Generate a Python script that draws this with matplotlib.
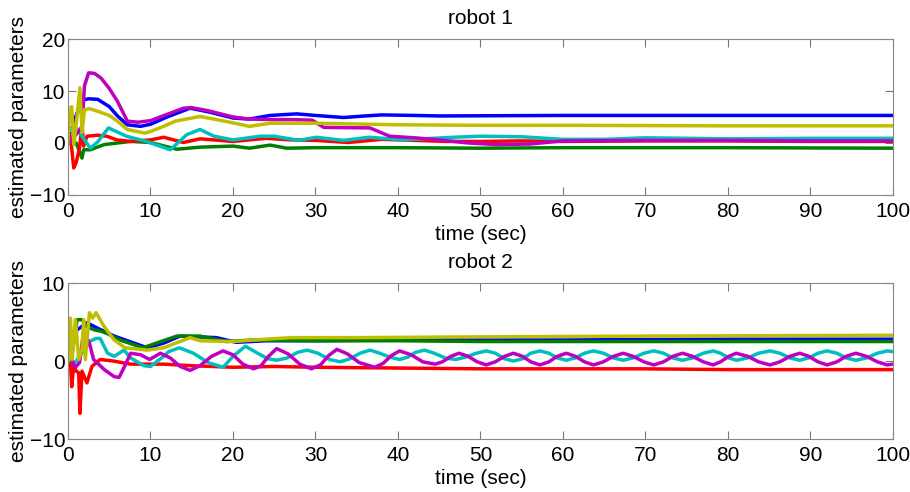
import numpy as np
import matplotlib
matplotlib.use("Agg")
import matplotlib.pyplot as plt

plt.rcParams['font.family'] = ['Liberation Sans', 'DejaVu Sans']

# ---- robot 1 parameter estimates ----
blue1_t = [0, 0.5, 1.1, 1.5, 1.9, 2.5, 3.6, 5, 6, 7.2, 8.8, 10, 12, 14.8, 17, 20, 22, 24.5, 27.7, 30, 33.4, 36, 38, 42, 45, 60, 80, 100]
blue1_v = [1, 3, 5.8, 6.5, 8.3, 8.5, 8.4, 7.0, 5.2, 3.5, 3.2, 3.6, 5.0, 6.7, 6.0, 4.8, 4.6, 5.3, 5.6, 5.3, 4.9, 5.2, 5.4, 5.3, 5.2, 5.3, 5.3, 5.3]

green1_t = [0, 1.0, 1.7, 1.9, 2.7, 4.4, 7.6, 10, 13.2, 16, 20, 22, 24.5, 26.5, 30, 40, 50, 60, 80, 100]
green1_v = [0, 0, -2.9, -1.3, -1.3, -0.3, 0.3, 0.1, -1.2, -0.8, -0.6, -1.0, -0.4, -1.0, -0.9, -0.9, -1.0, -0.9, -0.9, -1.0]

red1_t = [0, 0.3, 0.7, 1.0, 1.4, 1.7, 1.9, 2.3, 3.6, 4.7, 5.9, 7.6, 10, 11.6, 14, 16, 20, 24, 27, 30, 34, 38, 42, 46, 50, 55, 60, 70, 80, 90, 100]
red1_v = [0, 1.3, -4.8, -3.7, -1, 3.5, -0.6, 1.3, 1.5, 1.3, 0.6, 0.3, 0.6, 1.1, 0.1, 0.8, 0.3, 0.9, 0.6, 0.5, 0.1, 0.7, 0.5, 0.3, 0.3, 0.4, 0.3, 0.4, 0.4, 0.3, 0.3]

cyan1_t = [0, 0.3, 0.65, 1.0, 1.7, 2.7, 3.6, 4.9, 7.1, 9.5, 12.4, 14.4, 16, 17.7, 20, 23.3, 25, 28, 30.1, 33.4, 36.5, 40.6, 46.7, 50, 55, 60, 65, 70, 80, 90, 100]
cyan1_v = [2, 2.6, 2.2, 2.9, 1.3, -1.0, 0.2, 2.9, 1.3, 0.3, -1.3, 1.6, 2.6, 1.3, 0.6, 1.3, 1.3, 0.5, 1.1, 0.5, 1.1, 0.6, 1.1, 1.3, 1.2, 0.7, 0.7, 1.0, 0.8, 0.9, 0.9]

magenta1_t = [0, 0.6, 1.2, 1.7, 2.0, 2.5, 3.2, 4, 5, 6, 7.2, 8.5, 10, 12, 14, 15, 17, 20, 22, 25, 27, 29.6, 31, 36.6, 39, 42, 45, 48.5, 52, 56, 60, 70, 80, 90, 100]
magenta1_v = [0, 1, 2, 3.2, 11, 13.5, 13.4, 12.5, 10.5, 8, 4.2, 4.0, 4.3, 5.5, 6.7, 6.8, 6.2, 5.0, 4.6, 4.5, 4.5, 4.4, 3.0, 2.9, 1.3, 1.0, 0.6, 0.0, -0.3, -0.2, 0.4, 0.5, 0.5, 0.4, 0.4]

yellow1_t = [0, 0.2, 0.45, 0.7, 1.05, 1.45, 1.7, 2.0, 2.6, 3.6, 5, 6, 7.2, 9.3, 10, 11.6, 13, 16, 19, 22, 24.5, 30, 40, 50, 60, 80, 100]
yellow1_v = [0, 6.5, 7.0, -0.3, 4.5, 10.6, 2.0, 6.4, 6.6, 6.1, 5.3, 4.2, 2.6, 1.9, 2.2, 3.2, 4.2, 5.1, 4.2, 3.2, 3.8, 3.8, 3.5, 3.4, 3.4, 3.3, 3.3]

# ---- robot 2 parameter estimates ----
blue2_t = [0, 0.3, 1.1, 2.3, 3.6, 5.6, 9.6, 11.6, 13.6, 18, 20.4, 24, 30, 40, 50, 60, 80, 100]
blue2_v = [0, 1.0, 4.0, 4.9, 4.2, 3.2, 1.7, 2.3, 3.2, 3.0, 2.4, 2.6, 2.6, 2.7, 2.7, 2.7, 2.8, 2.8]

green2_t = [0, 0.5, 0.8, 1.1, 1.7, 2.3, 3.2, 4.1, 4.8, 6.3, 9.1, 11, 13.2, 16, 19.2, 22.4, 30, 40, 50, 60, 80, 100]
green2_v = [0, 1, 3, 5.3, 5.3, 4.4, 4.0, 3.8, 3.5, 2.7, 1.7, 2.4, 3.2, 3.2, 2.5, 2.7, 2.6, 2.6, 2.5, 2.5, 2.5, 2.5]

red2_t = [0, 0.3, 0.45, 0.7, 1.0, 1.3, 1.45, 1.7, 2.3, 2.9, 3.9, 5.5, 7.6, 11.6, 15, 20, 25, 30, 40, 50, 60, 70, 80, 90, 100]
red2_v = [0, 0, -3.3, -0.5, -1.3, -1.5, -6.7, -1.3, -2.8, -0.7, 0.2, 0.0, -0.4, -0.4, -0.6, -0.8, -0.7, -0.8, -0.9, -1.0, -1.0, -1.0, -1.1, -1.1, -1.1]

cyan2_t = [0, 0.3, 0.7, 1.2, 2.0, 2.6, 3.4, 3.9, 4.8, 5.6, 6.8, 7.6, 9.2, 10, 11.6, 12.2, 13.5, 15.2, 17.0, 18.8, 20.0, 21.5, 23.0, 24.2, 25.3, 26.6, 27.8,
           29.0, 30.3, 31.7, 33.0, 34.2, 35.4, 36.6, 37.8, 39.0, 40.2, 41.2, 42.1, 43.2, 44.4, 45.7, 47.0, 48.2, 49.5, 50.7, 51.8, 52.9, 54.0,
           55.1, 56.1, 57.2, 58.3, 59.3, 60.4, 61.5, 62.6, 63.7, 64.9, 66.1, 67.3, 68.5, 69.8, 71.0, 72.2, 73.3, 74.5, 75.7, 77.0, 78.2, 79.1,
           80.1, 81.0, 82.4, 83.7, 85.1, 86.3, 87.5, 88.7, 89.8, 90.9, 92.0, 93.2, 94.3, 95.5, 96.8, 98.1, 99.3, 100]
cyan2_v = [0, 0.3, -0.4, 0.3, 1.5, 2.5, 2.9, 2.9, 1.0, 0.6, 1.4, 0.4, -0.6, -0.7, 0.6, 1.2, 1.7, 1.0, -0.2, -0.8, 0.6, 1.9, 1.0, 0.3, 0.1, 0.4, 1.1,
           1.4, 1.0, 0.2, -0.1, 0.3, 1.0, 1.4, 1.0, 0.5, 0.2, 0.5, 1.1, 1.4, 1.0, 0.4, 0.2, 0.5, 1.0, 1.3, 1.0, 0.3, 0.0,
           0.3, 1.0, 1.3, 1.0, 0.4, 0.1, 0.4, 1.0, 1.3, 1.0, 0.4, 0.1, 0.4, 1.0, 1.3, 1.0, 0.4, 0.1, 0.4, 1.0, 1.3, 1.0,
           0.4, 0.1, 0.4, 1.0, 1.3, 1.0, 0.4, 0.1, 0.4, 1.0, 1.3, 1.0, 0.4, 0.1, 0.4, 1.0, 1.3, 1.2]

magenta2_t = [0, 0.4, 0.7, 1.0, 1.4, 1.9, 2.6, 3.1, 4.4, 5.6, 6.2, 6.9, 7.6, 8.8, 9.9, 11.2, 12.4, 13.6, 14.8, 16.0, 17.4, 18.8, 20.0, 21.2, 22.5,
              23.4, 24.3, 25.3, 26.7, 28.1, 29.5, 30.6, 31.6, 32.6, 33.9, 35.3, 37.2, 38.2, 39.2, 40.2, 41.6, 43.0, 44.5, 45.4, 46.4, 47.4,
              48.5, 49.6, 50.7, 51.8, 52.9, 54.0, 55.1, 56.1, 57.2, 58.3, 59.3, 60.4, 61.5, 62.6, 63.7, 64.9, 66.1, 67.3, 68.5, 69.8,
              71.0, 72.2, 73.3, 74.5, 75.7, 77.0, 78.2, 79.1, 80.1, 81.0, 82.4, 83.7, 85.1, 86.3, 87.5, 88.7, 89.8, 90.9, 92.0, 93.2,
              94.3, 95.5, 96.8, 98.1, 99.3, 100]
magenta2_v = [0, 0.5, -0.6, -0.7, -0.2, 3.8, 2.3, 0.2, -1.1, -2.0, -2.1, -0.6, 1.0, 0.8, 0.2, 1.0, 0.4, -0.7, -1.2, -0.6, 0.6, 1.3, 0.8, -0.4, -1.0,
              -0.6, 0.6, 1.6, 0.9, -0.4, -1.0, -0.5, 0.7, 1.5, 0.9, -0.2, -0.8, -0.3, 0.7, 1.3, 0.8, -0.1, -0.4, -0.1, 0.6, 1.0,
              0.6, -0.1, -0.5, -0.1, 0.6, 1.0, 0.6, -0.1, -0.5, -0.1, 0.6, 1.0, 0.6, -0.1, -0.5, -0.1, 0.6, 1.0, 0.6, -0.1,
              -0.5, -0.1, 0.6, 1.0, 0.6, -0.1, -0.5, -0.1, 0.6, 1.0, 0.6, -0.1, -0.5, -0.1, 0.6, 1.0, 0.6, -0.1, -0.5, -0.1,
              0.6, 1.0, 0.6, -0.1, -0.5, -0.4]

yellow2_t = [0, 0.1, 0.3, 0.5, 0.9, 1.3, 1.7, 1.9, 2.1, 2.6, 3.0, 3.4, 4.4, 5.6, 6.9, 9.6, 11.6, 14.8, 16, 20, 24, 27, 35, 50, 70, 100]
yellow2_v = [0, 0.2, 5.5, 0.2, 5.3, 0.2, 1.5, 5.3, 0.2, 6.2, 5.5, 6.2, 4.4, 2.7, 1.7, 1.4, 1.7, 3.0, 2.6, 2.5, 2.8, 3.0, 3.0, 3.1, 3.2, 3.3]

colors = {"b": (0, 0, 1), "g": (0, 0.5, 0), "r": (1, 0, 0),
          "c": (0, 0.75, 0.75), "m": (0.75, 0, 0.75), "y": (0.75, 0.75, 0)}

robot1 = [(blue1_t, blue1_v, "b"), (green1_t, green1_v, "g"), (red1_t, red1_v, "r"),
          (cyan1_t, cyan1_v, "c"), (magenta1_t, magenta1_v, "m"), (yellow1_t, yellow1_v, "y")]
robot2 = [(blue2_t, blue2_v, "b"), (green2_t, green2_v, "g"), (red2_t, red2_v, "r"),
          (cyan2_t, cyan2_v, "c"), (magenta2_t, magenta2_v, "m"), (yellow2_t, yellow2_v, "y")]

fig = plt.figure(figsize=(9.1, 4.92), dpi=100)
ax1 = fig.add_axes([0.0747, 0.6037, 0.9066, 0.317])
ax2 = fig.add_axes([0.0747, 0.1077, 0.9066, 0.317])

fs = 15
for ax, series, title, ylim, yt in [(ax1, robot1, "robot 1", (-10, 20), [-10, 0, 10, 20]),
                                    (ax2, robot2, "robot 2", (-10, 10), [-10, 0, 10])]:
    for t, v, c in series:
        ax.plot(t, v, color=colors[c], lw=2.5, solid_joinstyle="round")
    ax.set_xlim(0, 100)
    ax.set_ylim(*ylim)
    ax.set_xticks(np.arange(0, 101, 10))
    ax.set_yticks(yt)
    ax.tick_params(direction="in", length=6, width=0.8, color="#777777",
                   labelsize=fs, top=True, right=True)
    ax.tick_params(axis="x", pad=5)
    ax.tick_params(axis="y", pad=2)
    for s in ax.spines.values():
        s.set_color("#888888")
        s.set_linewidth(0.8)
    ax.set_title(title, fontsize=fs, pad=11)
    ax.set_xlabel("time (sec)", fontsize=fs, labelpad=3)
    ax.set_ylabel("estimated parameters", fontsize=fs, labelpad=1)

fig.savefig("out.png", dpi=100)
